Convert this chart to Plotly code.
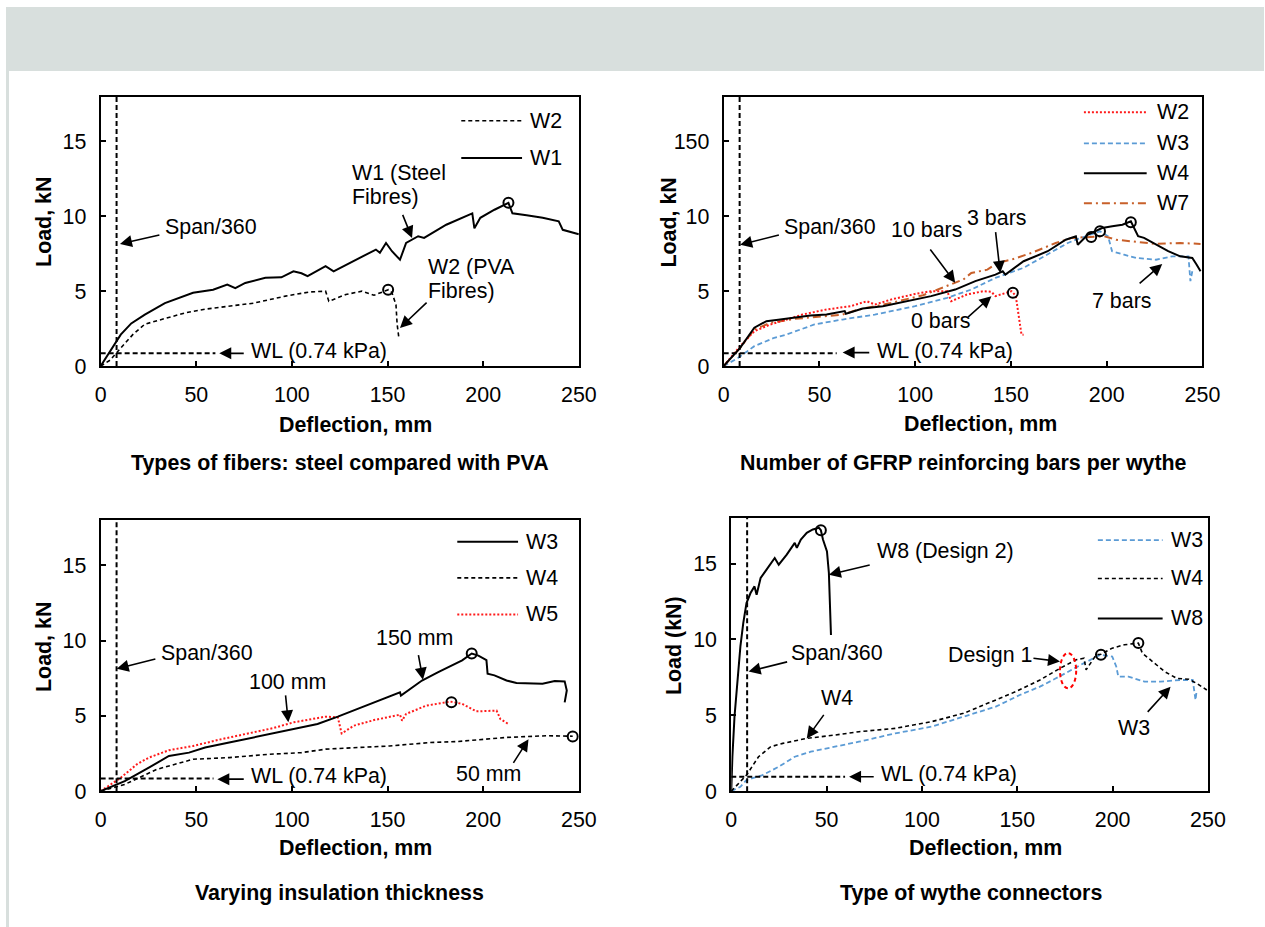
import plotly.graph_objects as go

# ---------------- DATA ----------------
x_ticks = [0, 50, 100, 150, 200, 250]
y_ticks = [0, 5, 10, 15]
y_ticktext_default = ["0", "5", "10", "15"]
y_ticktext_p2 = ["0", "5", "10", "150"]

span360 = 8.33          # deflection limit, mm
wl_load = [0.85, 0.85, 0.85, 0.95]   # WL (0.74 kPa) load level per panel
wl_end = [60, 59, 59, 59.7]

# Panel 1 : Types of fibers
p1_w1_x = [0, 10.5, 16, 23.1, 33.6, 48.3, 58.8, 66.2, 70.4, 75.6, 86.1, 94.5, 100.8, 105, 108.2, 117.6, 121.8,
           132.4, 143.9, 146, 149.2, 152.3, 156.5, 159.7, 166, 169.1, 180.7, 194.3, 195.4, 198.5, 205.9, 213.2,
           215.3, 222.7, 231.1, 239.5, 241.6, 250]
p1_w1_y = [0, 2.1, 2.85, 3.44, 4.2, 4.9, 5.1, 5.44, 5.2, 5.55, 5.9, 5.93, 6.33, 6.2, 6.0, 6.67, 6.33,
           7.0, 7.78, 7.56, 8.22, 7.67, 7.1, 8.22, 8.67, 8.56, 9.44, 10.2, 9.2, 9.9, 10.44, 10.9,
           10.2, 10.07, 9.9, 9.67, 9.1, 8.8]
p1_w2_x = [0, 5, 10.5, 16.8, 23.1, 33.6, 44.1, 54.6, 67.2, 79.8, 96.6, 109.2, 117.6, 119.3, 128.2, 136.6,
           142.9, 149.2, 150.5, 152.3, 154.4, 155, 155.9]
p1_w2_y = [0, 0.4, 1.2, 2.1, 2.8, 3.2, 3.55, 3.8, 4.0, 4.2, 4.67, 4.95, 5.0, 4.33, 4.78, 5.0,
           4.73, 5.0, 5.1, 4.9, 4.1, 2.8, 1.9]
p1_peak_x = [213.2, 150.3]
p1_peak_y = [10.9, 5.1]

# Panel 2 : Number of GFRP bars
p2_w2_x = [0, 8.6, 16, 24.4, 32.7, 41.1, 53.7, 66.3, 74.7, 79, 87.3, 100, 108.3, 116.7, 118.8, 127, 135.6,
           139.8, 141.9, 150.3, 152.5, 154, 154.8, 155.5, 156.6]
p2_w2_y = [0, 1.33, 2.33, 2.78, 3.1, 3.44, 3.78, 4.0, 4.33, 4.11, 4.44, 4.82, 5.0, 5.0, 4.33, 4.78, 5.0,
           4.96, 4.67, 5.0, 4.7, 3.5, 2.6, 2.1, 2.1]
p2_w3_x = [0, 7.6, 16, 26.4, 32.7, 47.4, 62.1, 78.9, 99.9, 116.7, 129.3, 141.9, 156.6, 169.2, 179.7, 183.9,
           192.3, 196.5, 200.7, 202.8, 209, 215.4, 225.8, 234.3, 242.7, 243.7, 244.7]
p2_w3_y = [0, 0.55, 1.33, 1.89, 2.1, 2.78, 3.11, 3.44, 4.0, 4.56, 5.11, 5.89, 6.56, 7.44, 8.22, 8.44,
           8.78, 9.0, 8.67, 7.67, 7.44, 7.22, 7.1, 7.33, 7.33, 5.67, 6.33]
p2_w4_x = [0, 8.6, 16, 22.3, 28.5, 37, 45.3, 53.7, 63.2, 63.8, 72.6, 83.1, 95.7, 108.3, 120.9, 131.4, 141.9,
           145.7, 147.1, 156.6, 169.2, 178.6, 183.9, 184.9, 190.2, 197.6, 202.9, 208.2, 212.6, 216.4, 219.5,
           225.8, 232.1, 238.4, 244.7, 246.9, 249]
p2_w4_y = [0, 1.22, 2.56, 3.0, 3.1, 3.22, 3.38, 3.44, 3.67, 3.5, 3.84, 4.0, 4.33, 4.67, 5.11, 5.67, 6.11,
           6.33, 6.11, 7.0, 7.67, 8.44, 8.67, 8.1, 8.78, 9.22, 9.33, 9.44, 9.67, 8.67, 8.56,
           8.1, 7.67, 7.33, 7.22, 6.78, 6.33]
p2_w7_x = [0, 8.6, 16, 24.4, 37, 53.7, 62.1, 70.5, 87.3, 104.1, 118.8, 125.1, 129.3, 137.7, 143, 150.3,
           160.8, 173.4, 181.8, 191.9, 198.6, 204.9, 215.4, 225.8, 238.4, 249]
p2_w7_y = [0, 1.22, 2.44, 2.89, 3.15, 3.35, 3.44, 3.78, 4.22, 4.73, 5.44, 5.78, 6.22, 6.44, 6.89, 7.11,
           7.56, 8.22, 8.56, 8.62, 8.67, 8.44, 8.29, 8.16, 8.22, 8.16]
p2_peak_x = [151, 191.9, 196.5, 212.6]
p2_peak_y = [4.9, 8.62, 9.0, 9.6]

# Panel 3 : Varying insulation thickness
p3_w3_x = [0, 12.6, 25.2, 35.7, 46.2, 54.6, 67.2, 79.8, 88.2, 100.8, 113.4, 124, 134.5, 147, 156.5, 157,
           168, 176.5, 189, 194, 197.5, 201.7, 202.3, 205.9, 212.2, 217.4, 224.8, 231, 237.4, 242.6, 243.7,
           242.6]
p3_w3_y = [0, 0.67, 1.56, 2.34, 2.56, 2.9, 3.23, 3.57, 3.79, 4.12, 4.46, 4.95, 5.46, 6.06, 6.57, 6.35,
           7.35, 7.9, 8.69, 9.14, 9.0, 8.7, 7.8, 7.69, 7.35, 7.18, 7.18, 7.13, 7.31, 7.29, 6.69,
           5.9]
p3_w4_x = [0, 12.6, 29.4, 48.3, 67.2, 88.2, 105, 117.6, 134.5, 151, 172.3, 187, 212, 233.2, 246.8]
p3_w4_y = [0, 0.45, 1.45, 2.12, 2.23, 2.45, 2.56, 2.79, 2.9, 3.0, 3.23, 3.3, 3.57, 3.68, 3.65]
p3_w5_x = [0, 10.5, 18.9, 25.2, 35.7, 48.3, 63, 77.7, 90.3, 100.8, 113.4, 117.6, 124, 126, 132.4, 142.9,
           156.5, 157.6, 159.7, 170.2, 182.8, 189, 196.4, 203.8, 207, 209, 213.2]
p3_w5_y = [0, 0.89, 1.78, 2.23, 2.72, 3.0, 3.45, 3.83, 4.19, 4.57, 4.86, 4.95, 4.9, 3.83, 4.35, 4.72,
           5.08, 4.68, 5.13, 5.68, 5.95, 5.8, 5.3, 5.35, 5.35, 4.79, 4.46]
p3_peak_x = [194, 183.4, 246.8]
p3_peak_y = [9.14, 5.9, 3.63]

# Panel 4 : Type of wythe connectors
p4_w3_x = [0, 4.8, 8, 16.4, 24.9, 33.3, 41.7, 54.4, 67, 86, 105, 121.8, 138.7, 151.3, 161.9, 170.3, 176.6,
           185, 193.5, 199.8, 201.9, 203, 208.3, 216.7, 225.1, 235.7, 242, 243.5, 244.1]
p4_w3_y = [0, 0.29, 0.73, 1.06, 1.61, 2.27, 2.6, 2.93, 3.26, 3.81, 4.25, 4.91, 5.57, 6.34, 6.89, 7.44, 7.89,
           8.44, 8.99, 8.88, 8.22, 7.55, 7.55, 7.22, 7.22, 7.33, 7.33, 6.01, 6.67]
p4_w4_x = [0, 3.8, 8, 14.3, 20.7, 27, 39.6, 54.4, 67, 86, 105, 121.8, 134.5, 149.2, 161.9, 172.4, 180.9,
           185, 186.1, 191.4, 193.9, 199.8, 206.2, 213.5, 215.6, 220.9, 227.2, 233.6, 239.9, 244.1, 249.4]
p4_w4_y = [0, 0.5, 1.06, 2.27, 2.93, 3.15, 3.48, 3.7, 3.92, 4.14, 4.58, 5.13, 5.79, 6.56, 7.33, 8.1, 8.66,
           8.77, 8.0, 8.99, 9.03, 9.43, 9.65, 9.76, 9.1, 8.55, 7.89, 7.44, 7.38, 7.11, 6.67]
p4_w8_x = [0, 0.6, 1.7, 3.4, 4.8, 6.3, 8, 10.1, 12.2, 13.3, 15.4, 18.5, 22.8, 24.9, 29.1, 33.3, 34.4, 36.5,
           39.6, 42.8, 46, 47, 48.1, 50.2, 51.2, 52.3]
p4_w8_y = [0, 2.27, 4.9, 7.55, 9.54, 11.08, 12.4, 13.06, 13.5, 12.95, 14.05, 14.6, 15.37, 14.93, 15.59,
           16.37, 16.04, 16.59, 17.03, 17.25, 17.36, 17.2, 16.59, 15.81, 14.38, 10.3]
p4_peak_x = [47, 193.9, 213.5]
p4_peak_y = [17.2, 9.0, 9.76]
design1_ellipse = [172.4, 180.9, 6.78, 9.1]

titles = ["Types of fibers: steel compared with PVA", "Number of GFRP reinforcing bars per wythe",
          "Varying insulation thickness", "Type of wythe connectors"]
y_titles = ["Load, kN", "Load, kN", "Load, kN", "Load (kN)"]
x_title = "Deflection, mm"

# ---------------- STYLE / LAYOUT ----------------
# positions below are given in target-picture pixels and mapped to figure
# pixels with a small scale/offset correction.
SX, SY, OX = 0.985, 0.987, 2.0
W, H = 1282, 939
FS = 21.4
FONT = "Liberation Sans, Arial, sans-serif"
BLUE = "#5b9bd5"
RED = "#ff1a1a"
ORANGE = "#c8602a"
GRAY = "#d8dfdd"


def px(x):
    return ((x - OX) / SX) / W


def py(y):
    return 1 - (y / SY) / H


# plot boxes in picture pixels: (left, right, top, bottom)
boxes = [(97, 577, 96.5, 366), (722.4, 1203, 96.5, 366), (97, 577, 520, 791), (730, 1208.5, 518, 791)]

fig = go.Figure()

STY = {
    "solid": dict(color="black", width=2),
    "dash": dict(color="black", width=1.6, dash="4px,3px"),
    "dotred": dict(color=RED, width=2, dash="2px,2px"),
    "dashblue": dict(color=BLUE, width=1.8, dash="5px,3px"),
    "dashdot": dict(color=ORANGE, width=2, dash="8px,4px,2px,4px"),
}


def add_line(ax, xs, ys, style):
    fig.add_trace(go.Scatter(x=xs, y=ys, mode="lines", line=STY[style], xaxis="x" + ax, yaxis="y" + ax,
                             showlegend=False, hoverinfo="skip"))


def add_peaks(ax, xs, ys):
    fig.add_trace(go.Scatter(x=xs, y=ys, mode="markers",
                             marker=dict(symbol="circle-open", size=10, color="black", line=dict(width=2)),
                             xaxis="x" + ax, yaxis="y" + ax, showlegend=False, hoverinfo="skip"))


# panel 1
add_line("", p1_w2_x, p1_w2_y, "dash")
add_line("", p1_w1_x, p1_w1_y, "solid")
add_peaks("", p1_peak_x, p1_peak_y)
# panel 2
add_line("2", p2_w3_x, p2_w3_y, "dashblue")
add_line("2", p2_w7_x, p2_w7_y, "dashdot")
add_line("2", p2_w2_x, p2_w2_y, "dotred")
add_line("2", p2_w4_x, p2_w4_y, "solid")
add_peaks("2", p2_peak_x, p2_peak_y)
# panel 3
add_line("3", p3_w4_x, p3_w4_y, "dash")
add_line("3", p3_w5_x, p3_w5_y, "dotred")
add_line("3", p3_w3_x, p3_w3_y, "solid")
add_peaks("3", p3_peak_x, p3_peak_y)
# panel 4
add_line("4", p4_w3_x, p4_w3_y, "dashblue")
add_line("4", p4_w4_x, p4_w4_y, "dash")
add_line("4", p4_w8_x, p4_w8_y, "solid")
add_peaks("4", p4_peak_x, p4_peak_y)

layout = dict(width=W, height=H, margin=dict(l=0, r=0, t=0, b=0), paper_bgcolor="white",
              plot_bgcolor="white", showlegend=False, font=dict(family=FONT, size=FS, color="black"))

axis_common = dict(showline=True, mirror=True, linecolor="black", linewidth=2, ticks="inside", ticklen=5,
                   tickwidth=1.5, tickcolor="black", showgrid=False, zeroline=False,
                   tickfont=dict(family=FONT, size=FS, color="black"), fixedrange=True)

for i, (l, r, t, b) in enumerate(boxes):
    sfx = "" if i == 0 else str(i + 1)
    layout["xaxis" + sfx] = dict(axis_common, domain=[px(l), px(r)], range=[0, 250], tickvals=x_ticks,
                                 anchor="y" + sfx, ticklabelstandoff=8)
    layout["yaxis" + sfx] = dict(axis_common, domain=[py(b), py(t)], range=[0, 18], tickvals=y_ticks,
                                 ticktext=y_ticktext_p2 if i == 1 else y_ticktext_default,
                                 anchor="x" + sfx, ticklabelstandoff=8)
fig.update_layout(**layout)

shapes = []
annotations = []
# page background decoration (grey header band and left strip)
shapes.append(dict(type="rect", xref="paper", yref="paper", x0=0, x1=1, y0=py(71), y1=py(7),
                   fillcolor=GRAY, line_width=0, layer="below"))
shapes.append(dict(type="rect", xref="paper", yref="paper", x0=0, x1=px(5), y0=0, y1=py(71),
                   fillcolor=GRAY, line_width=0, layer="below"))

for i in range(4):
    sfx = "" if i == 0 else str(i + 1)
    xr, yr = "x" + sfx, "y" + sfx
    shapes.append(dict(type="line", xref=xr, yref=yr + " domain", x0=span360, x1=span360, y0=0, y1=1,
                       line=dict(color="black", width=2, dash="5px,3px")))
    shapes.append(dict(type="line", xref=xr, yref=yr, x0=0, x1=wl_end[i], y0=wl_load[i], y1=wl_load[i],
                       line=dict(color="black", width=2, dash="5px,3px")))

shapes.append(dict(type="circle", xref="x4", yref="y4", x0=design1_ellipse[0], x1=design1_ellipse[1],
                   y0=design1_ellipse[2], y1=design1_ellipse[3], line=dict(color="red", width=2, dash="4px,3px")))


def text(ax, x, y, s):
    annotations.append(dict(x=x, y=y, xref="x" + ax, yref="y" + ax, text=s, showarrow=False, xanchor="left",
                            yanchor="middle", font=dict(family=FONT, size=FS, color="black")))


def arrow(ax, tx, ty, hx, hy):
    annotations.append(dict(x=hx, y=hy, ax=tx, ay=ty, xref="x" + ax, yref="y" + ax, axref="x" + ax,
                            ayref="y" + ax, text="", showarrow=True, arrowhead=2, arrowsize=1.5,
                            arrowwidth=1.6, arrowcolor="black"))


# panel 1 annotations
text("", 32.6, 9.27, "Span/360"); arrow("", 31.5, 8.78, 10.1, 8.16)
text("", 77.7, 1.0, "WL (0.74 kPa)"); arrow("", 75.6, 0.85, 62, 0.85)
text("", 130.3, 12.92, "W1 (Steel"); text("", 130.3, 11.3, "Fibres)")
arrow("", 157.6, 10.2, 162.8, 8.55)
text("", 170.2, 6.62, "W2 (PVA"); text("", 170.2, 5.0, "Fibres)")
arrow("", 171.2, 4.33, 156.5, 2.55)
# panel 2
text("2", 30.6, 9.27, "Span/360"); arrow("2", 29.6, 8.78, 8.6, 8.1)
text("2", 86.3, 9.1, "10 bars"); arrow("2", 107.3, 7.89, 120.9, 5.56)
text("2", 126.2, 9.9, "3 bars"); arrow("2", 141.9, 9.04, 144.4, 6.22)
text("2", 96.8, 3.0, "0 bars"); arrow("2", 126.8, 3.18, 139.8, 4.67)
text("2", 191.2, 4.33, "7 bars"); arrow("2", 216.4, 5.44, 229, 6.82)
text("2", 78.9, 1.04, "WL (0.74 kPa)"); arrow("2", 76.8, 0.9, 62.1, 0.9)
# panel 3
text("3", 30.5, 9.18, "Span/360"); arrow("3", 29.4, 8.8, 8.4, 8.13)
text("3", 76.7, 7.24, "100 mm"); arrow("3", 96.6, 6.46, 98.1, 4.57)
text("3", 142.9, 10.14, "150 mm"); arrow("3", 166, 9.14, 168.5, 7.4)
text("3", 184.9, 1.11, "50 mm"); arrow("3", 215.3, 1.78, 223.7, 3.45)
text("3", 77.7, 1.0, "WL (0.74 kPa)"); arrow("3", 75.6, 0.8, 61, 0.8)
# panel 4
text("4", 75.5, 15.8, "W8 (Design 2)"); arrow("4", 73.4, 14.93, 51.2, 14.27)
text("4", 30.1, 9.1, "Span/360"); arrow("4", 30.1, 8.55, 9.1, 7.89)
text("4", 46, 6.12, "W4"); arrow("4", 49.1, 5.13, 39.6, 3.48)
text("4", 112.4, 8.99, "Design 1"); arrow("4", 157.7, 8.77, 172.4, 8.55)
text("4", 202, 4.14, "W3"); arrow("4", 217.7, 5.13, 230.4, 6.89)
text("4", 77.6, 1.12, "WL (0.74 kPa)"); arrow("4", 75.5, 0.95, 61.8, 0.95)

# manual legends (picture pixels): line x0, x1, text x, entries(y, label, style)
legends = [
    (459, 520, 526, [(120.7, "W2", "dash"), (158, "W1", "solid")]),
    (1084, 1147, 1155, [(112.3, "W2", "dotred"), (143.3, "W3", "dashblue"), (173.3, "W4", "solid"),
                        (203.3, "W7", "dashdot")]),
    (455, 516, 522, [(541.7, "W3", "solid"), (577.7, "W4", "dash"), (614.3, "W5", "dotred")]),
    (1098, 1163, 1169, [(540, "W3", "dashblue"), (578.3, "W4", "dash"), (618.3, "W8", "solid")]),
]
for x0, x1, tx, entries in legends:
    for yy, lab, st in entries:
        ln = dict(STY[st])
        shapes.append(dict(type="line", xref="paper", yref="paper", x0=px(x0), x1=px(x1), y0=py(yy), y1=py(yy),
                           line=ln))
        annotations.append(dict(x=px(tx), y=py(yy), xref="paper", yref="paper", text=lab, showarrow=False,
                                xanchor="left", yanchor="middle", font=dict(family=FONT, size=FS)))

# axis titles & panel captions (picture pixels)
xt_pos = [(353, 425), (980, 424), (353, 848), (985.6, 848)]
yt_pos = [(40, 222), (667.5, 222.5), (40.3, 646.7), (672.4, 645)]
cap_pos = [(337, 463), (963, 463), (336.5, 893), (970.5, 893)]
for i in range(4):
    annotations.append(dict(x=px(xt_pos[i][0]), y=py(xt_pos[i][1]), xref="paper", yref="paper",
                            text="<b>%s</b>" % x_title, showarrow=False, xanchor="center", yanchor="middle",
                            font=dict(family=FONT, size=FS)))
    annotations.append(dict(x=px(yt_pos[i][0]), y=py(yt_pos[i][1]), xref="paper", yref="paper",
                            text="<b>%s</b>" % y_titles[i], showarrow=False, xanchor="center", yanchor="middle",
                            textangle=-90, font=dict(family=FONT, size=FS)))
    annotations.append(dict(x=px(cap_pos[i][0]), y=py(cap_pos[i][1]), xref="paper", yref="paper",
                            text="<b>%s</b>" % titles[i], showarrow=False, xanchor="center", yanchor="middle",
                            font=dict(family=FONT, size=FS)))

fig.update_layout(shapes=shapes, annotations=annotations)

fig.write_html("out.html", config={"displayModeBar": False},
               post_script="document.documentElement.style.overflow='hidden';"
                           "document.body.style.margin='0px';document.body.style.overflow='hidden';")
